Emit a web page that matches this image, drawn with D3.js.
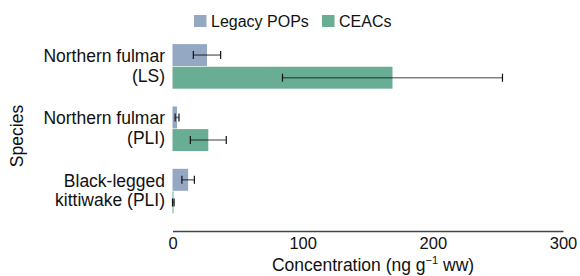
<!DOCTYPE html>
<html>
<head>
<meta charset="utf-8">
<script src="https://cdn.jsdelivr.net/npm/d3@7"></script>
<style>
  body { margin: 0; background: #fff; }
  text { font-family: Arial, "Liberation Sans", sans-serif; fill: #111; }
</style>
</head>
<body>
<svg id="chart"></svg>
<script>
const species = ['Northern fulmar\n(LS)', 'Northern fulmar\n(PLI)', 'Black-legged\nkittiwake (PLI)'];
const seriesNames = ['Legacy POPs', 'CEACs'];
const legacyMean = [26.5, 3.5, 12];
const legacyErr = [10.5, 1.5, 4.8];
const ceacMean = [169, 27.5, 0.6];
const ceacErr = [84.5, 13.8, 0.6];
const xTicks = [0, 100, 200, 300];
const colors = ['#94a8c4', '#69ad94'];

const width = 580, height = 276;
const svg = d3.select('#chart')
  .attr('width', width)
  .attr('height', height);

const rows = species.map((s, i) => ({
  species: s,
  values: [
    {series: seriesNames[0], mean: legacyMean[i], err: legacyErr[i]},
    {series: seriesNames[1], mean: ceacMean[i], err: ceacErr[i]}
  ]
}));

const x = d3.scaleLinear().domain([0, 300]).range([172.5, 563]);
const y = d3.scaleBand().domain(species).range([31, 226.5])
  .paddingInner(0.285).paddingOuter(0.21);
const yi = d3.scaleBand().domain(seriesNames).range([0, y.bandwidth()]).paddingInner(0.03);
const color = d3.scaleOrdinal().domain(seriesNames).range(colors);

const g = svg.selectAll('g.group')
  .data(rows)
  .join('g')
  .attr('class', 'group')
  .attr('transform', d => 'translate(0,' + y(d.species) + ')');

g.selectAll('rect')
  .data(d => d.values)
  .join('rect')
  .attr('x', x(0))
  .attr('y', d => yi(d.series))
  .attr('width', d => Math.max(1, x(d.mean) - x(0)))
  .attr('height', yi.bandwidth())
  .attr('fill', d => color(d.series));

// error bars
const eb = g.selectAll('g.err')
  .data(d => d.values)
  .join('g')
  .attr('class', 'err')
  .attr('transform', d => 'translate(0,' + (yi(d.series) + yi.bandwidth() / 2) + ')');

eb.append('line')
  .attr('x1', d => x(Math.max(0, d.mean - d.err)))
  .attr('x2', d => x(d.mean + d.err))
  .attr('stroke', '#000')
  .attr('stroke-opacity', 0.5)
  .attr('stroke-width', 1.6);

eb.selectAll('line.cap')
  .data(d => [Math.max(0, d.mean - d.err), d.mean + d.err])
  .join('line')
  .attr('class', 'cap')
  .attr('x1', v => x(v))
  .attr('x2', v => x(v))
  .attr('y1', -4)
  .attr('y2', 4)
  .attr('stroke', '#111')
  .attr('stroke-width', 1.2);

// x axis
const xAxis = svg.append('g')
  .attr('transform', 'translate(0,231)')
  .call(d3.axisBottom(x).tickValues(xTicks).tickSize(0).tickPadding(6));
xAxis.select('.domain').attr('stroke', '#444').attr('stroke-width', 1.5);
xAxis.selectAll('text')
  .style('font-size', '16.5px')
  .style('font-family', 'Arial, "Liberation Sans", sans-serif')
  .attr('fill', '#111');

// y labels
svg.selectAll('text.ylab')
  .data(species)
  .join('text')
  .attr('class', 'ylab')
  .attr('text-anchor', 'end')
  .style('font-size', '17.5px')
  .attr('x', 165)
  .attr('y', d => y(d) + y.bandwidth() / 2 - 10.5)
  .selectAll('tspan')
  .data(d => d.split('\n'))
  .join('tspan')
  .attr('x', 165)
  .attr('dy', (d, i) => i === 0 ? '0.35em' : 19.5)
  .text(d => d);

svg.append('text')
  .attr('transform', 'translate(23,136) rotate(-90)')
  .attr('text-anchor', 'middle')
  .style('font-size', '17.5px')
  .text('Species');

const xt = svg.append('text')
  .attr('x', 373)
  .attr('y', 271)
  .attr('text-anchor', 'middle')
  .style('font-size', '17.5px');
xt.append('tspan').text('Concentration (ng g');
xt.append('tspan').text('\u22121').style('font-size', '11px').attr('dy', -7);
xt.append('tspan').text(' ww)').attr('dy', 7);

// legend
const leg = svg.selectAll('g.leg')
  .data(seriesNames)
  .join('g')
  .attr('class', 'leg')
  .attr('transform', (d, i) => 'translate(' + [194, 322][i] + ',15)');
leg.append('rect')
  .attr('width', 12.5)
  .attr('height', 12)
  .attr('fill', d => color(d));
leg.append('text')
  .attr('x', 17)
  .attr('y', 6)
  .attr('dy', '0.35em')
  .style('font-size', '16px')
  .text(d => d);
</script>
</body>
</html>
